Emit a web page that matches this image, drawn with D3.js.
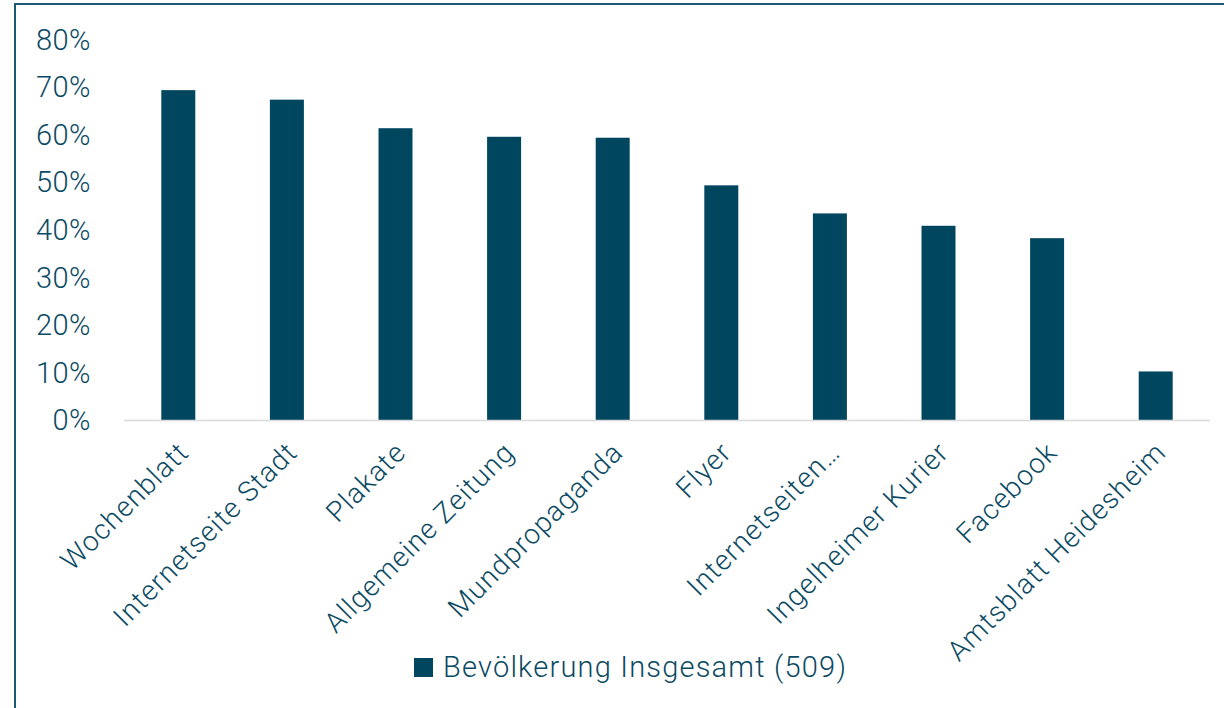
<!DOCTYPE html>
<html>
<head>
<meta charset="utf-8">
<script src="https://cdn.jsdelivr.net/npm/d3@7"></script>
<style>
  body { margin: 0; background: #fff; }
  svg text { font-family: Roboto, "DejaVu Sans", sans-serif; font-weight: 300; fill: #0b4a63; }
</style>
</head>
<body>
<div id="chart"></div>
<script>
const categories = ['Wochenblatt', 'Internetseite Stadt', 'Plakate', 'Allgemeine Zeitung', 'Mundpropaganda',
  'Flyer', 'Internetseiten…', 'Ingelheimer Kurier', 'Facebook', 'Amtsblatt Heidesheim'];
const values = [69.3, 67.3, 61.3, 59.5, 59.3, 49.3, 43.4, 40.8, 38.2, 10.2];
const yTicks = [0, 10, 20, 30, 40, 50, 60, 70, 80];
const seriesName = 'Bevölkerung Insgesamt (509)';

const width = 1224;
const height = 708;
const margin = {top: 40, right: 14, bottom: 288, left: 124};

const barColor = '#00465f';

const svg = d3.select("#chart")
  .append("svg")
  .attr("width", width)
  .attr("height", height);

// frame
svg.append("rect")
  .attr("x", 15)
  .attr("y", 4)
  .attr("width", 1220)
  .attr("height", 720)
  .attr("fill", "none")
  .attr("stroke", "#1b5a73")
  .attr("stroke-width", 2);

const x = d3.scaleBand()
  .domain(categories)
  .range([margin.left, width - margin.right])
  .paddingInner(0.687)
  .paddingOuter(0.3435);

const y = d3.scaleLinear()
  .domain([0, 80])
  .range([height - margin.bottom, margin.top - 0.8]);

// y tick labels
svg.append("g")
  .selectAll("text")
  .data(yTicks)
  .enter()
  .append("text")
  .attr("x", 91)
  .attr("y", (d) => y(d))
  .attr("dy", "0.36em")
  .attr("text-anchor", "end")
  .style("font-size", "29px")
  .style("letter-spacing", "0.5px")
  .text((d) => d + "%");

// bars
svg.append("g")
  .selectAll("rect")
  .data(values)
  .enter()
  .append("rect")
  .attr("x", (d, i) => x(categories[i]))
  .attr("y", (d) => y(d))
  .attr("width", x.bandwidth())
  .attr("height", (d) => y(0) - y(d))
  .attr("fill", barColor);

// baseline
svg.append("line")
  .attr("x1", margin.left)
  .attr("x2", width - margin.right)
  .attr("y1", y(0) + 0.5)
  .attr("y2", y(0) + 0.5)
  .attr("stroke", "#d9d9d9")
  .attr("stroke-width", 1.5);

// category labels
svg.append("g")
  .selectAll("text")
  .data(categories)
  .enter()
  .append("text")
  .attr("transform", (d) => `translate(${x(d) + x.bandwidth() / 2 + 12}, ${y(0) + 34}) rotate(-45)`)
  .attr("text-anchor", "end")
  .style("font-size", "28px")
  .style("letter-spacing", "1.1px")
  .text((d) => d);

// legend
const legend = svg.append("g")
  .attr("transform", "translate(414, 658)");

legend.append("rect")
  .attr("width", 19)
  .attr("height", 19)
  .attr("fill", barColor);

legend.append("text")
  .attr("x", 29)
  .attr("y", 19)
  .style("font-size", "29px")
  .style("letter-spacing", "1.2px")
  .text(seriesName);
</script>
</body>
</html>
